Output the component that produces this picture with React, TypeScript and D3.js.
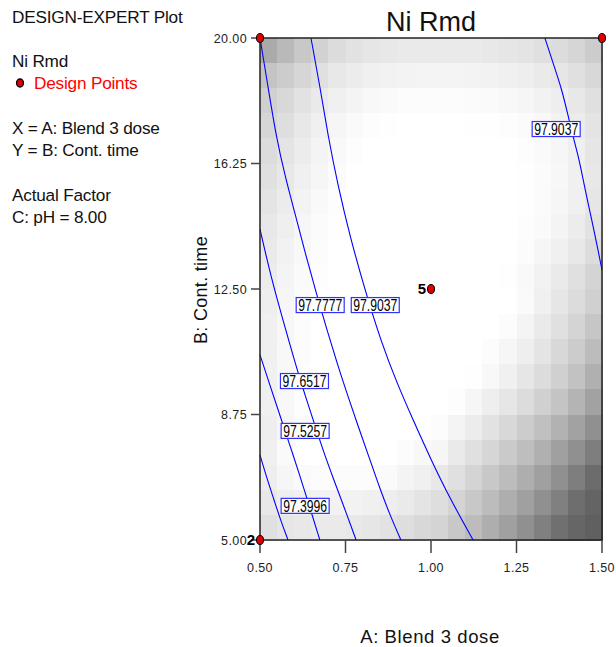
import React from 'react';
import * as d3 from 'd3';

// axis ticks
const doseTicks = [0.5, 0.75, 1.0, 1.25, 1.5];
const timeTicks = [5.0, 8.75, 12.5, 16.25, 20.0];

// gray shading of the 20x20 grid, top row first (0 = black, 255 = white)
const shade = [
  [170, 185, 200, 210, 220, 226, 230, 232, 234, 234, 234, 234, 234, 232, 230, 228, 224, 220, 214, 204],
  [196, 204, 214, 224, 232, 236, 240, 242, 243, 244, 244, 244, 243, 242, 240, 238, 234, 230, 224, 216],
  [208, 216, 226, 234, 240, 244, 248, 250, 252, 252, 252, 252, 251, 250, 248, 246, 242, 238, 232, 224],
  [214, 222, 232, 240, 246, 250, 253, 254, 255, 255, 255, 255, 254, 254, 253, 251, 248, 242, 236, 228],
  [220, 228, 236, 244, 249, 253, 255, 255, 255, 255, 255, 255, 255, 255, 255, 253, 250, 246, 240, 230],
  [224, 232, 240, 246, 251, 255, 255, 255, 255, 255, 255, 255, 255, 255, 255, 254, 251, 247, 240, 232],
  [228, 236, 243, 249, 253, 255, 255, 255, 255, 255, 255, 255, 255, 255, 255, 254, 251, 246, 240, 230],
  [232, 239, 246, 251, 254, 255, 255, 255, 255, 255, 255, 255, 255, 255, 255, 253, 250, 244, 236, 226],
  [234, 242, 248, 252, 255, 255, 255, 255, 255, 255, 255, 255, 255, 255, 255, 252, 246, 240, 232, 220],
  [236, 244, 250, 253, 255, 255, 255, 255, 255, 255, 255, 255, 255, 255, 254, 249, 242, 234, 224, 212],
  [238, 246, 251, 255, 255, 255, 255, 255, 255, 255, 255, 255, 255, 255, 255, 250, 240, 230, 220, 208],
  [240, 247, 252, 255, 255, 255, 255, 255, 255, 255, 255, 255, 255, 255, 252, 244, 234, 224, 212, 198],
  [240, 248, 252, 255, 255, 255, 255, 255, 255, 255, 255, 255, 255, 252, 246, 238, 228, 216, 204, 188],
  [241, 248, 253, 255, 255, 255, 255, 255, 255, 255, 255, 255, 254, 248, 240, 230, 220, 208, 194, 176],
  [240, 248, 253, 255, 255, 255, 255, 255, 255, 255, 255, 253, 246, 238, 230, 220, 208, 196, 180, 162],
  [238, 246, 251, 254, 255, 255, 255, 255, 255, 254, 252, 244, 236, 226, 216, 204, 192, 178, 162, 144],
  [240, 250, 255, 255, 255, 255, 255, 255, 252, 248, 246, 234, 224, 214, 202, 190, 176, 160, 144, 126],
  [238, 246, 250, 252, 252, 252, 252, 250, 244, 240, 232, 224, 212, 200, 188, 174, 160, 144, 126, 108],
  [232, 238, 240, 242, 242, 242, 240, 238, 234, 228, 222, 212, 200, 188, 174, 160, 144, 128, 110, 100],
  [224, 230, 232, 234, 234, 232, 230, 226, 222, 216, 212, 200, 188, 174, 160, 144, 128, 112, 102, 96],
];

// contour lines, points as [A: dose, B: time]
const line1: [number, number][] = [[0.5, 7.54], [0.52, 6.85], [0.541, 6.2], [0.561, 5.57], [0.582, 5.0]];
const line2: [number, number][] = [[0.5, 10.53], [0.529, 9.63], [0.558, 8.73], [0.588, 7.81], [0.617, 6.91], [0.646, 5.96], [0.675, 5.0]];
const line3: [number, number][] = [[0.5, 14.29], [0.532, 12.86], [0.573, 11.36], [0.611, 9.99], [0.649, 8.79], [0.684, 7.69], [0.716, 6.79], [0.749, 5.9], [0.781, 5.0]];
const line4: [number, number][] = [[0.5, 20], [0.523, 18.57], [0.547, 17.07], [0.573, 15.88], [0.602, 14.77], [0.632, 13.58], [0.664, 12.4], [0.695, 11.3], [0.728, 10.2], [0.757, 9.3], [0.787, 8.4], [0.818, 7.5], [0.85, 6.55], [0.883, 5.67], [0.912, 5.0]];
const line5: [number, number][] = [[0.649, 20], [0.675, 18.57], [0.699, 17.07], [0.728, 15.58], [0.763, 14.08], [0.806, 12.5], [0.855, 10.9], [0.9, 9.7], [0.947, 8.6], [1.0, 7.4], [1.055, 6.25], [1.123, 5.0]];
const line6: [number, number][] = [[1.333, 20], [1.357, 19.25], [1.383, 18.45], [1.401, 17.67], [1.415, 17.07], [1.43, 16.5], [1.444, 15.82], [1.459, 15.07], [1.474, 14.38], [1.487, 13.73], [1.5, 13.07]];
const contourLines = [line1, line2, line3, line4, line5, line6];

// contour labels
const labelText = ['97.9037', '97.7777', '97.9037', '97.6517', '97.5257', '97.3996'];
const labelA = [1.366, 0.676, 0.837, 0.63, 0.632, 0.632];
const labelB = [17.28, 12.02, 12.02, 9.75, 8.26, 6.02];

// design points
const pointA = [0.5, 1.5, 0.5, 1.0];
const pointB = [20, 20, 5, 12.5];
const pointCount = ['', '', '2', '5'];

const legendLines = [
  { t: 'DESIGN-EXPERT Plot', y: 23 },
  { t: 'Ni Rmd', y: 67 },
  { t: 'X = A: Blend 3 dose', y: 134 },
  { t: 'Y = B: Cont. time', y: 156 },
  { t: 'Actual Factor', y: 201 },
  { t: 'C: pH = 8.00', y: 223 },
];

const font = 'Liberation Sans, Arial, sans-serif';

export default function App() {
  const W = 616;
  const H = 647;
  const x = d3.scaleLinear().domain([0.5, 1.5]).range([260, 602]);
  const y = d3.scaleLinear().domain([5, 20]).range([540, 38]);
  const col = d3.scaleBand<number>().domain(d3.range(20)).range([260, 602]);
  const row = d3.scaleBand<number>().domain(d3.range(20)).range([38, 540]);
  const path = d3
    .line<[number, number]>()
    .x((d) => x(d[0]))
    .y((d) => y(d[1]))
    .curve(d3.curveBasis);

  return (
    <svg
      width={W}
      height={H}
      style={{ position: 'absolute', left: 0, top: 0, background: '#fff' }}
      fontFamily={font}
    >
      {/* left legend text */}
      {legendLines.map((l, i) => (
        <text key={i} x={12} y={l.y} fontSize={17.2} fill="#111" letterSpacing={-0.2}>
          {l.t}
        </text>
      ))}
      <ellipse cx={20} cy={83} rx={3.5} ry={4} fill="#e00000" stroke="#000" strokeWidth={1.3} />
      <text x={34} y={89} fontSize={17.2} fill="#ff0000" letterSpacing={-0.2}>
        Design Points
      </text>

      {/* shading */}
      <g shapeRendering="crispEdges">
        {shade.map((r, j) =>
          r.map((v, i) => (
            <rect
              key={`${i}-${j}`}
              x={col(i)}
              y={row(j)}
              width={col.bandwidth() + 0.5}
              height={row.bandwidth() + 0.5}
              fill={d3.rgb(v, v, v).toString()}
            />
          ))
        )}
      </g>

      {/* contours */}
      {contourLines.map((c, i) => (
        <path key={i} d={path(c) || ''} fill="none" stroke="#0000ff" strokeWidth={1.1} />
      ))}
      {labelText.map((t, i) => (
        <g key={i} transform={`translate(${x(labelA[i])},${y(labelB[i])})`}>
          <rect x={-24} y={-7.5} width={48} height={15} fill="#fff" stroke="#3030ff" strokeWidth={1.2} />
          <text
            x={0}
            y={6}
            textAnchor="middle"
            fontSize={16}
            fill="#000"
            textLength={44}
            lengthAdjust="spacingAndGlyphs"
          >
            {t}
          </text>
        </g>
      ))}

      {/* frame */}
      <rect x={260} y={38} width={342} height={502} fill="none" stroke="#222" strokeWidth={1.5} />

      {/* y axis */}
      {timeTicks.map((t) => (
        <g key={t}>
          <line x1={251} x2={260} y1={y(t)} y2={y(t)} stroke="#444" strokeWidth={1.5} />
          <text x={247} y={y(t) + 4.5} textAnchor="end" fontSize={12.5} fill="#222" letterSpacing={0.4}>
            {t.toFixed(2)}
          </text>
        </g>
      ))}
      {/* x axis */}
      {doseTicks.map((t) => (
        <g key={t}>
          <line x1={x(t)} x2={x(t)} y1={540} y2={553} stroke="#444" strokeWidth={1.5} />
          <text x={x(t)} y={572} textAnchor="middle" fontSize={12.5} fill="#222" letterSpacing={0.4}>
            {t.toFixed(2)}
          </text>
        </g>
      ))}

      {/* design points */}
      {pointA.map((a, i) => (
        <g key={i}>
          <ellipse cx={x(a)} cy={y(pointB[i])} rx={3.5} ry={4.5} fill="#e00000" stroke="#000" strokeWidth={1} />
          {pointCount[i] && (
            <text x={x(a) - 5} y={y(pointB[i]) + 5} textAnchor="end" fontSize={15} fontWeight="bold" fill="#000">
              {pointCount[i]}
            </text>
          )}
        </g>
      ))}

      {/* titles */}
      <text x={431} y={31} textAnchor="middle" fontSize={27} fill="#111">
        Ni Rmd
      </text>
      <text x={430} y={643} textAnchor="middle" fontSize={18.5} fill="#111" letterSpacing={0.6}>
        A: Blend 3 dose
      </text>
      <text
        transform="translate(207,290) rotate(-90)"
        textAnchor="middle"
        fontSize={18}
        fill="#111"
        letterSpacing={0.3}
      >
        B: Cont. time
      </text>
    </svg>
  );
}
